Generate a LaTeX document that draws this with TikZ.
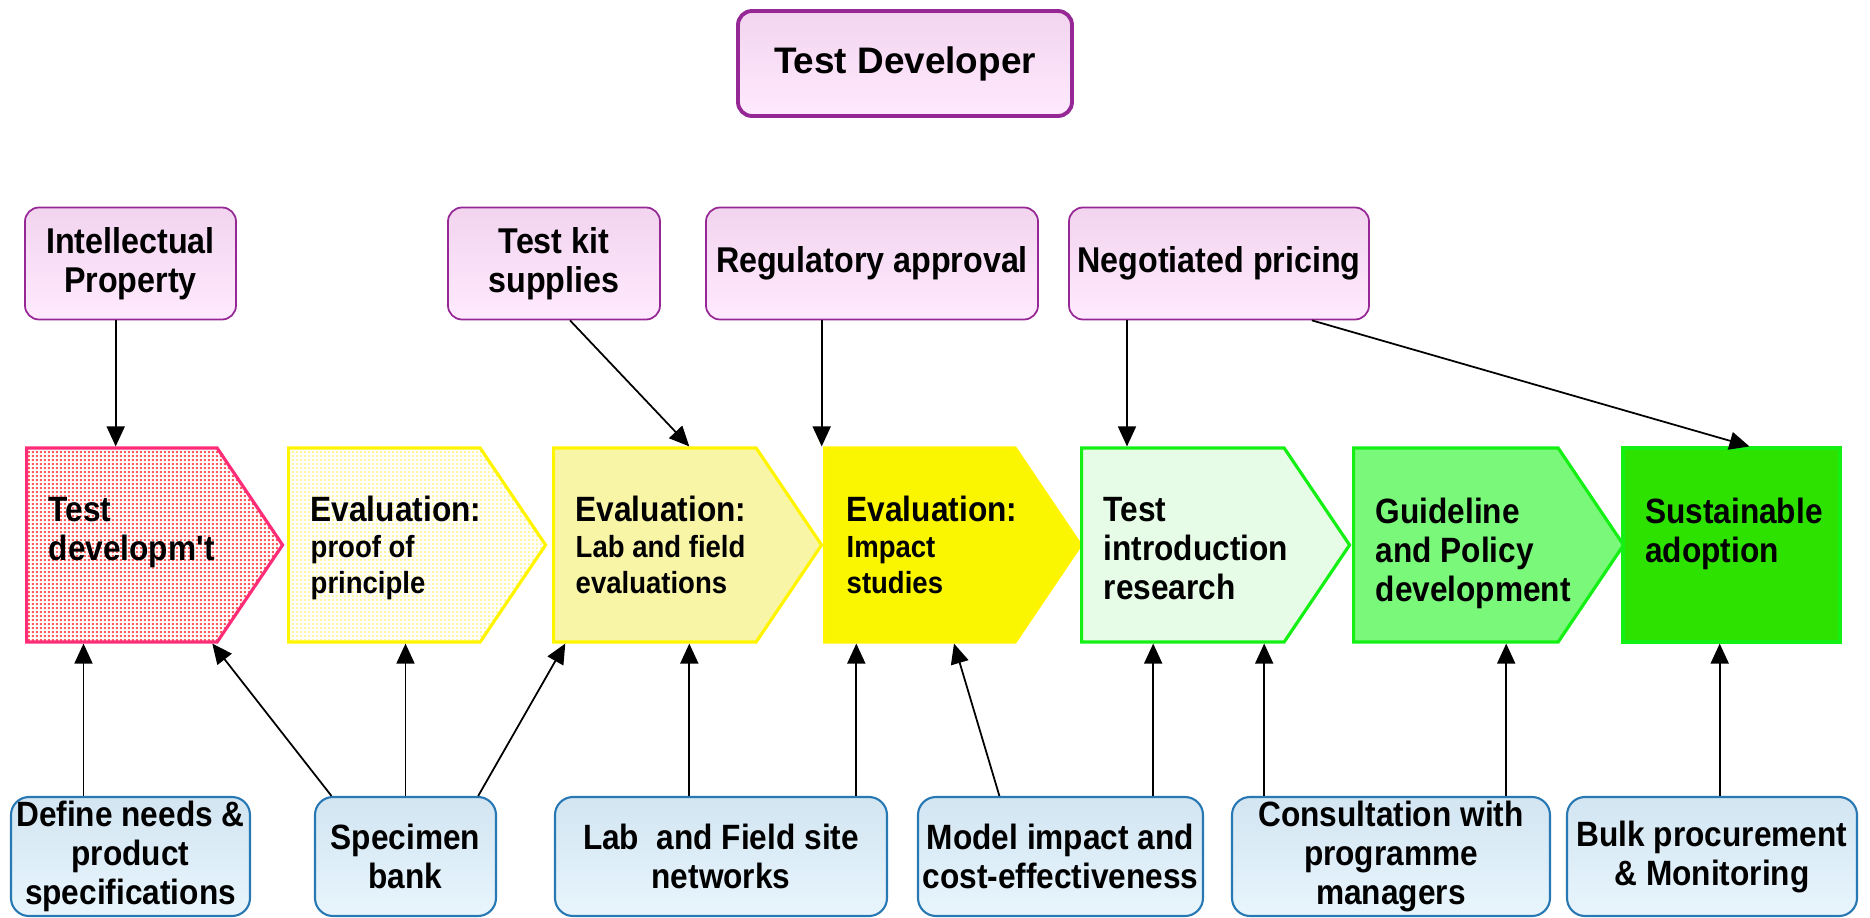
\documentclass[tikz,border=0pt]{standalone}
\usepackage{fontspec}
\setmainfont{Liberation Sans}
\newfontfamily\narrowsf[FakeStretch=0.9]{Liberation Sans}
\usetikzlibrary{shapes.symbols,arrows.meta,patterns.meta}

\definecolor{devline}{RGB}{150,40,150}
\definecolor{devtop}{RGB}{242,212,238}
\definecolor{devbot}{RGB}{255,234,255}
\definecolor{resline}{RGB}{40,120,180}
\definecolor{restop}{RGB}{210,229,241}
\definecolor{resbot}{RGB}{232,245,253}
\definecolor{tdline}{RGB}{255,45,120}
\definecolor{tddot}{RGB}{255,90,90}
\definecolor{yline}{RGB}{255,245,0}
\definecolor{ydot}{RGB}{255,246,160}
\definecolor{labfill}{RGB}{249,245,166}
\definecolor{impfill}{RGB}{250,245,0}
\definecolor{gline}{RGB}{20,240,20}
\definecolor{introfill}{RGB}{230,252,230}
\definecolor{polfill}{RGB}{122,248,122}
\definecolor{adoptfill}{RGB}{46,226,0}

\pgfdeclarepattern{
  name=finedots,
  type=uncolored,
  bottom left={\pgfpoint{0mm}{0mm}},
  top right={\pgfpoint{0.4mm}{0.4mm}},
  tile size={\pgfpoint{0.4mm}{0.4mm}},
  code={\pgfpathrectangle{\pgfpoint{0.1mm}{0.1mm}}{\pgfpoint{0.2mm}{0.2mm}}\pgfusepath{fill}}
}

\newcommand\subsz{\fontsize{8.7}{10.2}\selectfont}

\begin{document}
\begin{tikzpicture}[
    dev/.style={rectangle, rounded corners=1.4mm, draw=devline, line width=0.5pt, top color=devtop, bottom color=devbot,
        align=center, inner sep=0pt, minimum height=1.12cm, font=\narrowsf\bfseries\fontsize{10.2}{11}\selectfont},
    res/.style={rectangle, rounded corners=1.8mm, draw=resline, line width=0.6pt, top color=restop, bottom color=resbot,
        align=center, inner sep=0pt, minimum height=1.19cm, font=\narrowsf\bfseries\fontsize{10}{11.1}\selectfont},
    stage/.style={shape=signal, signal to=east, signal pointer angle=112, line width=0.9pt, inner sep=0pt,
        minimum height=1.94cm, anchor=west},
    stagetext/.style={anchor=north west, align=left, inner sep=0pt,
        font=\narrowsf\bfseries\fontsize{10}{11.1}\selectfont},
    arr/.style={-{Triangle[length=2mm,width=1.8mm]}, line width=0.5pt}
]
    \useasboundingbox (0,0) rectangle (18.70,9.17);

    \node[dev, line width=1.1pt, minimum width=3.34cm, minimum height=1.05cm, font=\bfseries\fontsize{10.5}{12}\selectfont] (dev) at (9.05,8.535) {Test Developer};

    \node[dev, minimum width=2.11cm] (ip) at (1.305,6.535) {Intellectual\\Property};
    \node[dev, minimum width=2.12cm] (kit) at (5.54,6.535) {Test kit\\supplies};
    \node[dev, minimum width=3.32cm] (reg) at (8.72,6.535) {Regulatory approval};
    \node[dev, minimum width=3.00cm] (price) at (12.19,6.535) {Negotiated pricing};

    \node[stage, minimum width=2.56cm, draw=tdline, preaction={fill=white}, pattern=finedots, pattern color=tddot] (td) at (0.25,3.72) {};
    \node[stage, minimum width=2.57cm, draw=yline, preaction={fill=white}, pattern=finedots, pattern color=ydot] (proof) at (2.87,3.72) {};
    \node[stage, minimum width=2.68cm, draw=yline, fill=labfill] (lab) at (5.52,3.72) {};
    \node[stage, minimum width=2.56cm, draw=yline, fill=impfill] (impact) at (8.23,3.72) {};
    \node[stage, minimum width=2.68cm, draw=gline, fill=introfill] (intro) at (10.80,3.72) {};
    \node[stage, minimum width=2.70cm, draw=gline, fill=polfill] (policy) at (13.52,3.72) {};
    \node[rectangle, line width=0.9pt, inner sep=0pt, minimum height=1.94cm, minimum width=2.17cm, draw=gline, fill=adoptfill] (adopt) at (17.315,3.72) {};

    \node[stagetext] (tdtxt) at ([shift={(2.3mm,-5.05mm)}]td.north west) {Test\\developm\textquotesingle t};
    \node[stagetext] (prooftxt) at ([shift={(2.3mm,-4.9mm)}]proof.north west) {Evaluation:\\[-0.9pt]\subsz proof of\\[-0.9pt]\subsz principle};
    \node[stagetext] (labtxt) at ([shift={(2.3mm,-4.9mm)}]lab.north west) {Evaluation:\\[-0.9pt]\subsz Lab and field\\[-0.9pt]\subsz evaluations};
    \node[stagetext] (impacttxt) at ([shift={(2.3mm,-4.9mm)}]impact.north west) {Evaluation:\\[-0.9pt]\subsz Impact\\[-0.9pt]\subsz studies};
    \node[stagetext] (introtxt) at ([shift={(2.3mm,-5.05mm)}]intro.north west) {Test\\introduction\\research};
    \node[stagetext] (policytxt) at ([shift={(2.3mm,-5.05mm)}]policy.north west) {Guideline\\and Policy\\development};
    \node[stagetext] (adopttxt) at ([shift={(2.3mm,-5.05mm)}]adopt.north west) {Sustainable\\adoption};

    \node[res, minimum width=2.39cm] (needs) at (1.305,0.605) {Define needs \&\\product\\specifications};
    \node[res, minimum width=1.81cm] (spec) at (4.055,0.605) {Specimen\\bank};
    \node[res, minimum width=3.32cm] (labnet) at (7.21,0.605) {Lab\ \ and Field site\\networks};
    \node[res, minimum width=2.85cm] (model) at (10.605,0.605) {Model impact and\\cost-effectiveness};
    \node[res, minimum width=3.18cm] (consult) at (13.91,0.605) {Consultation with\\programme\\managers};
    \node[res, minimum width=2.90cm] (bulk) at (17.12,0.605) {Bulk procurement\\\& Monitoring};

    \draw[arr] ([xshift=-1.48mm]ip.south) -- ([xshift=-1.48mm]ip.south |- td.north);
    \draw[arr] ([xshift=1.6mm]kit.south) -- ([xshift=13.73mm]lab.north west);
    \draw[arr] ([xshift=-5.03mm]reg.south) -- ([xshift=-5.03mm]reg.south |- impact.north);
    \draw[arr] ([xshift=-9.2mm]price.south) -- ([xshift=-9.2mm]price.south |- intro.north);
    \draw[arr] ([xshift=9.29mm]price.south) -- ([xshift=1.8mm]adopt.north);

    \draw[arr] ([xshift=-4.7mm]needs.north) -- ([xshift=-4.7mm]needs.north |- td.south);
    \draw[arr] ([xshift=-7.4mm]spec.north) -- ([xshift=18.73mm]td.south west);
    \draw[arr] (spec.north) -- (spec.north |- proof.south);
    \draw[arr] ([xshift=7.27mm]spec.north) -- ([xshift=1.33mm]lab.south west);
    \draw[arr] ([xshift=-3.17mm]labnet.north) -- ([xshift=-3.17mm]labnet.north |- lab.south);
    \draw[arr] ([xshift=13.53mm]labnet.north) -- ([xshift=13.53mm]labnet.north |- impact.south);
    \draw[arr] ([xshift=-6.11mm]model.north) -- ([xshift=13.1mm]impact.south west);
    \draw[arr] ([xshift=9.27mm]model.north) -- ([xshift=9.27mm]model.north |- intro.south);
    \draw[arr] ([xshift=-12.68mm]consult.north) -- ([xshift=-12.68mm]consult.north |- intro.south);
    \draw[arr] ([xshift=11.52mm]consult.north) -- ([xshift=11.52mm]consult.north |- policy.south);
    \draw[arr] ([xshift=0.77mm]bulk.north) -- ([xshift=0.77mm]bulk.north |- adopt.south);
\end{tikzpicture}
\end{document}
